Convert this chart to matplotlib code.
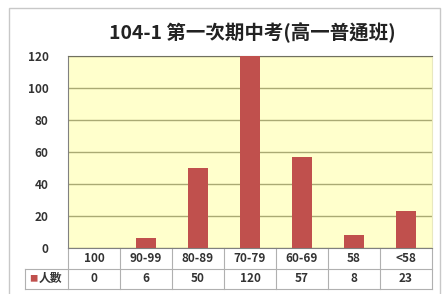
import matplotlib.pyplot as plt
from matplotlib.patches import Rectangle
from matplotlib.transforms import blended_transform_factory

plt.rcParams['font.family'] = ['Noto Sans CJK TC', 'DejaVu Sans']

categories = ["100", "90-99", "80-89", "70-79", "60-69", "58", "<58"]
counts = [0, 6, 50, 120, 57, 8, 23]
series_name = "人數"
title = "104-1 第一次期中考(高一普通班)"

W, H = 445, 294
fig = plt.figure(figsize=(W / 100, H / 100), dpi=100)
fig.patch.set_facecolor("white")

# outer chart border
fig.add_artist(Rectangle((9 / W, -0.01), (440 - 9) / W, (H - 8) / H + 0.01,
                         transform=fig.transFigure, fill=False,
                         edgecolor="#c8c8c8", linewidth=1))

left, right, top, bottom = 68, 432, 56, 248
ax = fig.add_axes([left / W, 1 - bottom / H, (right - left) / W, (bottom - top) / H])
ax.set_facecolor("#ffffcc")

x = range(len(categories))
ax.bar(x, counts, width=0.38, color="#c0504d", zorder=3)
ax.set_xlim(-0.5, len(categories) - 0.5)
ax.set_ylim(0, 120)
ax.set_yticks(range(0, 121, 20))
ax.yaxis.grid(True, color="#aaaa74", linewidth=1)
ax.set_axisbelow(True)
ax.set_xticks([])
ax.tick_params(axis="y", length=0, pad=14, labelsize=8.5, labelcolor="#333333")
for lab in ax.get_yticklabels():
    lab.set_fontweight("bold")
ax.spines["top"].set_color("#707060")
ax.spines["right"].set_color("#e8e8c0")
ax.spines["left"].set_color("#808080")
ax.spines["bottom"].set_color("#808080")

fig.text(0.568, 1 - 33 / H, title, ha="center", va="center",
         fontsize=14, fontweight="bold", color="#222222")

# data table below the plot
tr = blended_transform_factory(ax.transData, ax.transAxes)
row_h = 20.5 / (bottom - top)
n = len(categories)
for i, (c, v) in enumerate(zip(categories, counts)):
    ax.text(i, -row_h * 0.5, c, transform=tr, ha="center", va="center",
            fontsize=8.5, fontweight="bold", color="#333333", clip_on=False)
    ax.text(i, -row_h * 1.5, str(v), transform=tr, ha="center", va="center",
            fontsize=8.5, fontweight="bold", color="#333333", clip_on=False)

line_kw = dict(transform=tr, color="#b0b0b0", linewidth=0.8, clip_on=False)
for i in range(n + 1):
    ax.plot([i - 0.5, i - 0.5], [0, -row_h * 2], **line_kw)
legend_x = -0.5 - (left - 25) / ((right - left) / n)
ax.plot([legend_x, n - 0.5], [-row_h, -row_h], **line_kw)
ax.plot([legend_x, n - 0.5], [-row_h * 2, -row_h * 2], **line_kw)
ax.plot([legend_x, legend_x], [-row_h, -row_h * 2], **line_kw)

# legend key in the table
ax.text(legend_x + 0.08, -row_h * 1.5, "■", transform=tr, ha="left", va="center",
        fontsize=6, color="#c0504d", clip_on=False)
ax.text(legend_x + 0.26, -row_h * 1.5, series_name, transform=tr, ha="left", va="center",
        fontsize=8.5, fontweight="bold", color="#333333", clip_on=False)

fig.savefig("out.png", dpi=100)
